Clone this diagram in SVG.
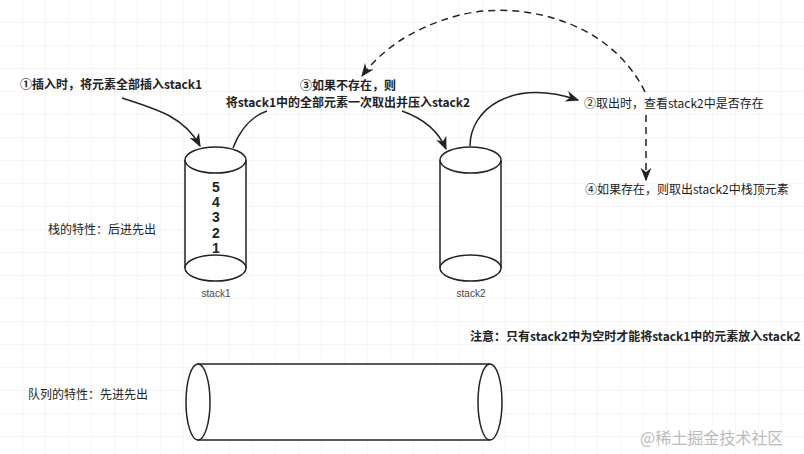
<svg xmlns="http://www.w3.org/2000/svg" width="804" height="454" viewBox="0 0 804 454">
<defs>
<pattern id="grid" width="23" height="23" patternUnits="userSpaceOnUse"><path d="M23 0V23H0" fill="none" stroke="#ececec" stroke-width="1"/></pattern>
<marker id="ah" viewBox="0 0 10 10" refX="9" refY="5" markerWidth="9" markerHeight="9" orient="auto"><path d="M0 1L10 5L0 9L3 5Z" fill="#222"/></marker>
</defs>
<style>
.t{font-family:"Noto Sans CJK SC","Liberation Sans",sans-serif;font-size:12px;fill:#222}
.b{font-weight:bold}
.shape{fill:#fff;stroke:#222;stroke-width:1.5}
.c{fill:none;stroke:#222;stroke-width:1.5}
.d{fill:none;stroke:#222;stroke-width:1.5;stroke-dasharray:7 5}
.n{font-family:"Liberation Sans",sans-serif;font-size:14px;font-weight:bold;fill:#222;text-anchor:middle}
.l{font-family:"Liberation Sans",sans-serif;font-size:10px;fill:#444;text-anchor:middle}
</style>
<rect width="804" height="454" fill="#fff"/>
<rect width="804" height="454" fill="url(#grid)"/>
<g id="stack1">
<path class="shape" d="M185 160V268A30.5 13 0 0 0 246 268V160"/>
<ellipse class="shape" cx="215.5" cy="160" rx="30.5" ry="13"/>
<path class="c" d="M185 268A30.5 13 0 0 1 246 268"/>
<text class="n" x="216" y="192">5</text><text class="n" x="216" y="207">4</text><text class="n" x="216" y="222">3</text><text class="n" x="216" y="238">2</text><text class="n" x="216" y="253">1</text>
<text class="l" x="216" y="297">stack1</text>
</g>
<g id="stack2">
<path class="shape" d="M440 160V268A30.5 13 0 0 0 501 268V160"/>
<ellipse class="shape" cx="470.5" cy="160" rx="30.5" ry="13"/>
<path class="c" d="M440 268A30.5 13 0 0 1 501 268"/>
<text class="l" x="471" y="297">stack2</text>
</g>
<g id="queue">
<path class="shape" d="M198 364H490A12 38 0 0 1 490 440H198Z"/>
<ellipse class="shape" cx="198" cy="402" rx="12" ry="38"/>
<path class="c" d="M490 364A12 38 0 0 0 490 440"/>
</g>
<g id="labels">
<text class="t b" x="20" y="89">①插入时，将元素全部插入stack1</text>
<text class="t b" x="348" y="90" text-anchor="middle">③如果不存在，则</text>
<text class="t b" x="348" y="107" text-anchor="middle">将stack1中的全部元素一次取出并压入stack2</text>
<text class="t" x="584" y="108">②取出时，查看stack2中是否存在</text>
<text class="t" x="585" y="194">④如果存在，则取出stack2中栈顶元素</text>
<text class="t" x="48" y="234">栈的特性：后进先出</text>
<text class="t b" x="470" y="341">注意：只有stack2中为空时才能将stack1中的元素放入stack2</text>
<text class="t" x="28" y="399">队列的特性：先进先出</text>
<text x="640" y="444" style="font-family:'Noto Sans CJK SC',serif;font-size:16px;fill:#bbb">@稀土掘金技术社区</text>
</g>
<g id="connectors">
<path class="c" marker-end="url(#ah)" d="M122 98C160 110 185 118 200 146"/>
<path class="c" d="M233 148C240 130 252 116 267 111"/>
<path class="c" marker-end="url(#ah)" d="M402 111C422 118 438 130 446 149"/>
<path class="c" marker-end="url(#ah)" d="M470 146C470 110 510 78 578 100"/>
<path class="d" marker-end="url(#ah)" d="M645 92C610 20 520 0 460 15C410 28 380 52 362 76"/>
<path class="d" marker-end="url(#ah)" d="M646 115V180"/>
</g>
</svg>
